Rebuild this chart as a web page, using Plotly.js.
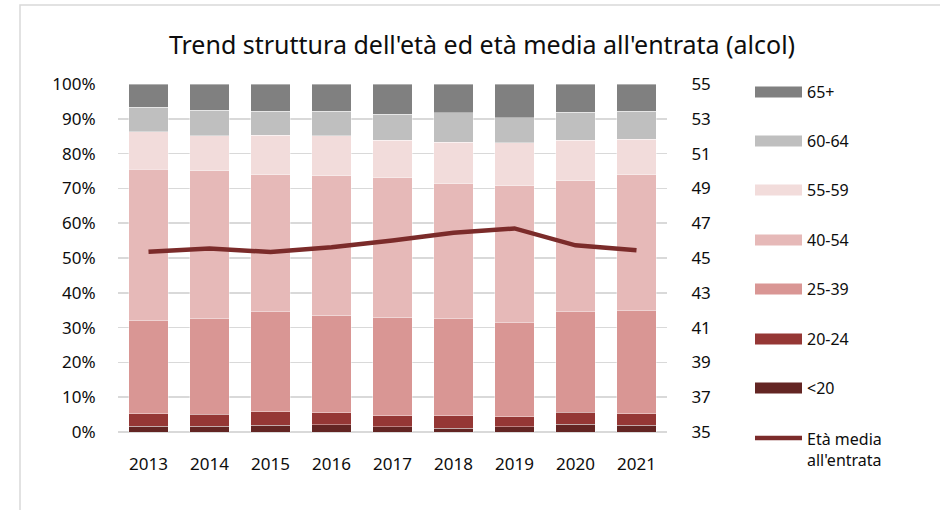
<!DOCTYPE html>
<html>
<head>
<meta charset="utf-8">
<script src="https://cdn.plot.ly/plotly-3.0.1.min.js"></script>
<style>
  body { margin: 0; background: #fff; }
  #chart { width: 940px; height: 510px; }
</style>
</head>
<body>
<div id="chart"></div>
<script>
// anni
const years = ['2013', '2014', '2015', '2016', '2017', '2018', '2019', '2020', '2021'];

// quote per classe d'età (%)
const under20 = [1.6, 1.6, 1.9, 2.1, 1.5, 1.1, 1.5, 2.3, 1.9];
const age20_24 = [3.7, 3.5, 3.9, 3.5, 3.2, 3.6, 2.9, 3.4, 3.4];
const age25_39 = [26.6, 27.4, 28.7, 28.0, 28.3, 27.9, 27.0, 28.9, 29.6];
const age40_54 = [43.6, 42.6, 39.4, 40.0, 40.1, 38.7, 39.3, 37.6, 39.0];
const age55_59 = [10.8, 10.0, 11.4, 11.6, 10.8, 12.0, 12.4, 11.7, 10.2];
const age60_64 = [7.0, 7.4, 6.9, 7.0, 7.4, 8.4, 7.2, 8.0, 8.0];
const age65plus = [6.7, 7.5, 7.8, 7.8, 8.7, 8.3, 9.7, 8.1, 7.9];

// età media all'entrata
const etaMedia = [45.36, 45.55, 45.34, 45.62, 46.0, 46.45, 46.7, 45.73, 45.44];

const seriesNames = ['<20', '20-24', '25-39', '40-54', '55-59', '60-64', '65+'];
const seriesValues = [under20, age20_24, age25_39, age40_54, age55_59, age60_64, age65plus];
const seriesColors = ['#632523', '#953735', '#d99694', '#e6b9b8', '#f2dcdb', '#bfbfbf', '#808080'];
const lineName = "Età media<br>all'entrata";
const lineColor = '#7b2b2a';

const FONT = 'Noto Sans, sans-serif';
const TXT = '#0d0d0d';

const data = seriesNames.map((name, i) => ({
    type: 'bar',
    name: name,
    x: years,
    y: seriesValues[i],
    marker: {color: seriesColors[i], line: {color: 'rgba(255,255,255,0.5)', width: 0.75}},
    hoverinfo: 'name+y'
}));

data.push({
    type: 'scatter',
    mode: 'lines',
    name: lineName,
    x: years,
    y: etaMedia,
    yaxis: 'y2',
    line: {color: lineColor, width: 4.5}
});

// plot area in pixels: x 118..667, y 84..432
const plotL = 118, plotR = 667, plotT = 84, plotB = 432;
const px = x => (x - plotL) / (plotR - plotL);
const py = y => (plotB - y) / (plotB - plotT);

// legenda disegnata a mano (simboli larghi come nell'originale)
const shapes = [];
const annotations = [];
const legendRows = [92, 141, 190, 240, 289, 339, 388];
for (let k = 0; k < seriesNames.length; k++) {
    const i = seriesNames.length - 1 - k;   // 65+ in cima
    const yc = legendRows[k];
    shapes.push({
        type: 'rect', xref: 'paper', yref: 'paper',
        x0: px(755), x1: px(802), y0: py(yc + 5.5), y1: py(yc - 5.5),
        fillcolor: seriesColors[i], line: {width: 0}
    });
    annotations.push({
        xref: 'paper', yref: 'paper', x: px(805), y: py(yc),
        xanchor: 'left', yanchor: 'middle', showarrow: false,
        text: seriesNames[i], font: {family: FONT, size: 16, color: TXT}
    });
}
shapes.push({
    type: 'line', xref: 'paper', yref: 'paper',
    x0: px(755), x1: px(802), y0: py(438), y1: py(438),
    line: {color: lineColor, width: 4.5}
});
annotations.push({
    xref: 'paper', yref: 'paper', x: px(805), y: py(426),
    xanchor: 'left', yanchor: 'top', showarrow: false, align: 'left',
    text: lineName, font: {family: FONT, size: 16, color: TXT}
});

// cornice esterna
shapes.push({
    type: 'rect', xref: 'paper', yref: 'paper', layer: 'below',
    x0: px(20), x1: px(960), y0: py(530), y1: py(5),
    line: {color: '#d9d9d9', width: 1.5}, fillcolor: 'rgba(0,0,0,0)'
});

const layout = {
    width: 940,
    height: 510,
    margin: {l: plotL, r: 940 - plotR, t: plotT, b: 510 - plotB, pad: 0},
    paper_bgcolor: '#ffffff',
    plot_bgcolor: '#ffffff',
    font: {family: FONT, size: 17, color: TXT},
    title: {
        text: "Trend struttura dell'età ed età media all'entrata (alcol)",
        font: {family: FONT, size: 25, color: TXT},
        x: 482 / 940, xref: 'container', xanchor: 'center',
        y: 1 - 45 / 510, yanchor: 'middle'
    },
    barmode: 'stack',
    bargap: 0.36,
    showlegend: false,
    xaxis: {
        type: 'category',
        showgrid: false,
        showline: false,
        ticks: 'outside', ticklen: 17, tickcolor: 'rgba(0,0,0,0)',
        tickfont: {family: FONT, size: 17, color: TXT}
    },
    yaxis: {
        range: [0, 100],
        dtick: 10,
        ticksuffix: '%',
        showgrid: true,
        gridcolor: '#d9d9d9',
        gridwidth: 1.5,
        zeroline: true,
        zerolinecolor: '#d9d9d9',
        zerolinewidth: 1.5,
        ticks: 'outside', ticklen: 18, tickcolor: 'rgba(0,0,0,0)',
        tickfont: {family: FONT, size: 17, color: TXT}
    },
    yaxis2: {
        overlaying: 'y',
        side: 'right',
        range: [35, 55],
        tick0: 35,
        dtick: 2,
        showgrid: false,
        zeroline: false,
        ticks: 'outside', ticklen: 20, tickcolor: 'rgba(0,0,0,0)',
        tickfont: {family: FONT, size: 17, color: TXT}
    },
    shapes: shapes,
    annotations: annotations
};

Plotly.newPlot('chart', data, layout, {displayModeBar: false, staticPlot: true});
</script>
</body>
</html>
